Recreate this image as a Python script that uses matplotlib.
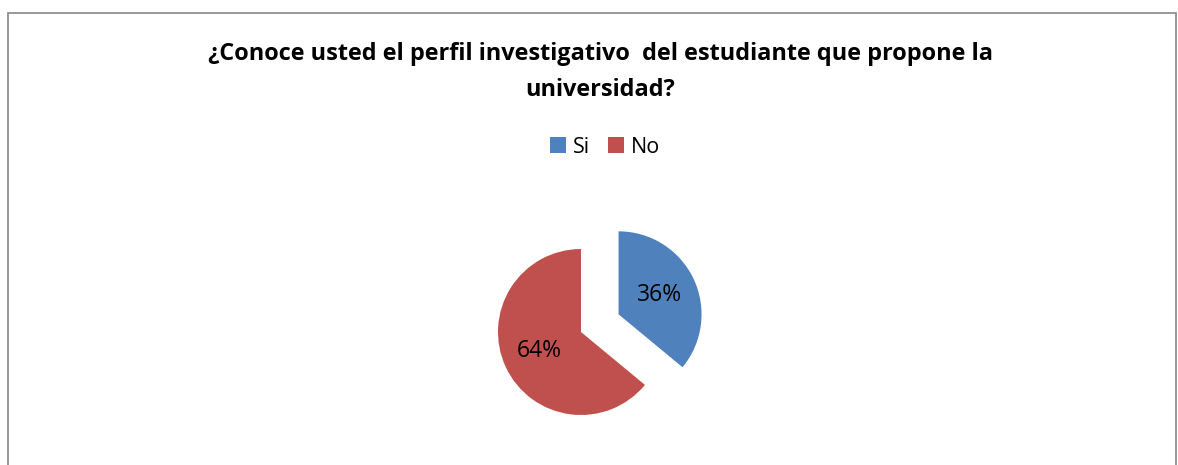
import matplotlib.pyplot as plt
from matplotlib.patches import Rectangle

# Datos
categorias = ["Si", "No"]
valores = [36, 64]
colores = ["#4F81BD", "#C0504D"]
titulo = "¿Conoce usted el perfil investigativo  del estudiante que propone la\nuniversidad?"

plt.rcParams['font.family'] = ['Open Sans', 'DejaVu Sans']

W, H = 1178, 465
fig = plt.figure(figsize=(W/100, H/100), dpi=100)

# Marco del gráfico
fig.patches.append(Rectangle((8/W, -0.1), (1176-8)/W, (H-13)/H + 0.1,
                             transform=fig.transFigure, fill=False,
                             edgecolor="#868686", linewidth=1.2))

# Ejes del pastel (radio ~83 px, centro en 581,332)
r = 83
cx, cy = 581, H - 332
lado = 300
ax = fig.add_axes([(cx - lado/2)/W, (cy - lado/2)/H, lado/W, lado/H])
wedges, textos, pct = ax.pie(valores, colors=colores, startangle=90,
                             counterclock=False, explode=[0.5, 0],
                             autopct='%1.0f%%', pctdistance=0.55,
                             textprops={'fontsize': 16.5, 'color': 'black'})
lim = lado/2/r
ax.set_xlim(-lim, lim)
ax.set_ylim(-lim, lim)
ax.set_aspect('equal')
ax.axis('off')

fig.text(600/W, 1 - 72/H, titulo, ha='center', va='center', fontsize=16.9,
         fontweight='bold', linespacing=1.62)

leg = fig.legend(wedges, categorias, loc='center', bbox_to_anchor=(605/W, 1 - 147/H),
                 ncol=2, frameon=False, fontsize=15.5, handlelength=0.75,
                 handleheight=0.75, columnspacing=0.8, handletextpad=0.35)

fig.savefig("out.png", dpi=100)
